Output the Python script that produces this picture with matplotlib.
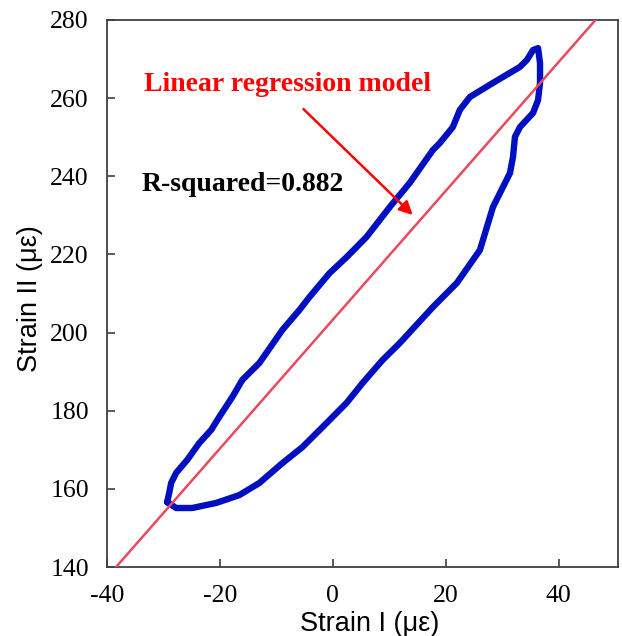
import matplotlib
matplotlib.use("Agg")
import matplotlib.pyplot as plt

plt.rcParams["axes.unicode_minus"] = False

# loop, clockwise from the lower-left corner
strain_1 = [-29.35, -28.99, -28.64, -27.75, -25.80, -23.67, -21.54, -20.12,
            -17.81, -16.03, -13.02, -8.93, -5.91, -4.14, -0.59, 2.43, 5.98,
            10.06, 13.61, 17.70, 18.94, 21.25, 22.49, 24.27, 28.35, 33.14,
            34.38, 35.45, 36.34, 36.69, 36.69, 36.34, 35.45, 33.14, 32.25,
            31.90, 31.36, 29.59, 28.35, 26.04, 21.96, 17.70, 11.84, 8.82,
            5.27, 2.43, -0.59, -1.83, -5.38, -8.93, -13.02, -16.57, -20.65,
            -24.91, -27.75, -29.35]
strain_2 = [156.6, 158.9, 161.5, 164.1, 167.4, 171.7, 175.1, 178.4, 183.5,
            187.9, 192.2, 200.7, 205.8, 209.1, 215.2, 219.3, 224.5, 232.1,
            238.3, 246.7, 248.5, 252.6, 257.0, 260.3, 263.9, 268.0, 269.8,
            272.3, 272.8, 269.0, 263.9, 259.5, 256.2, 252.6, 250.1, 244.9,
            240.8, 235.7, 232.1, 221.1, 212.7, 206.5, 197.3, 193.0, 187.1,
            182.0, 177.6, 175.8, 170.7, 166.6, 161.5, 158.4, 156.4, 155.1,
            155.1, 156.6]

fit_slope = 1.649
fit_intercept = 203.3
r_squared = 0.882

x_ticks = [-40, -20, 0, 20, 40]
y_ticks = [140, 160, 180, 200, 220, 240, 260, 280]

fig = plt.figure(figsize=(6.22, 6.36), dpi=100)
ax = fig.add_axes([107 / 622, 1 - 567 / 636, 511 / 622, 547 / 636])

ax.plot(strain_1, strain_2, color="#0010C0", lw=4.6, solid_joinstyle="round",
        solid_capstyle="round", zorder=2)
ax.axline((0, fit_intercept), slope=fit_slope, color="#E84A5F", lw=1.8, zorder=3)

ax.set_xlim(-40, 50.5)
ax.set_ylim(140, 280)
ax.set_xticks(x_ticks)
ax.set_yticks(y_ticks)

serif = "Liberation Serif"
sans = "Liberation Sans"
for lab in ax.get_xticklabels() + ax.get_yticklabels():
    lab.set_fontfamily(serif)
    lab.set_fontsize(18.5)
ax.tick_params(direction="in", length=6, width=1.2, color="#404040", pad=13)
for s in ax.spines.values():
    s.set_color("#404040")
    s.set_linewidth(1.3)

ax.set_xlabel("Strain I (\u03bc\u03b5)", fontfamily=sans, fontsize=19.5)
ax.set_ylabel("Strain II (\u03bc\u03b5)", fontfamily=sans, fontsize=19.5)
ax.xaxis.set_label_coords(0.513, -0.08)
ax.yaxis.set_label_coords(-0.125, 0.49)

ax.text(-33.4, 263.4, "Linear regression model", color="#FF0000",
        fontfamily=serif, fontweight="bold", fontsize=20, va="center")
ax.text(-33.8, 237.8, f"R-squared={r_squared}", color="black",
        fontfamily=serif, fontweight="bold", fontsize=20, va="center")
ax.annotate("", xy=(14.5, 229.6), xytext=(-5.56, 257.7),
            arrowprops=dict(arrowstyle="-|>", color="#FF0000", lw=1.8,
                            mutation_scale=20))

fig.savefig("out.png", dpi=100)
